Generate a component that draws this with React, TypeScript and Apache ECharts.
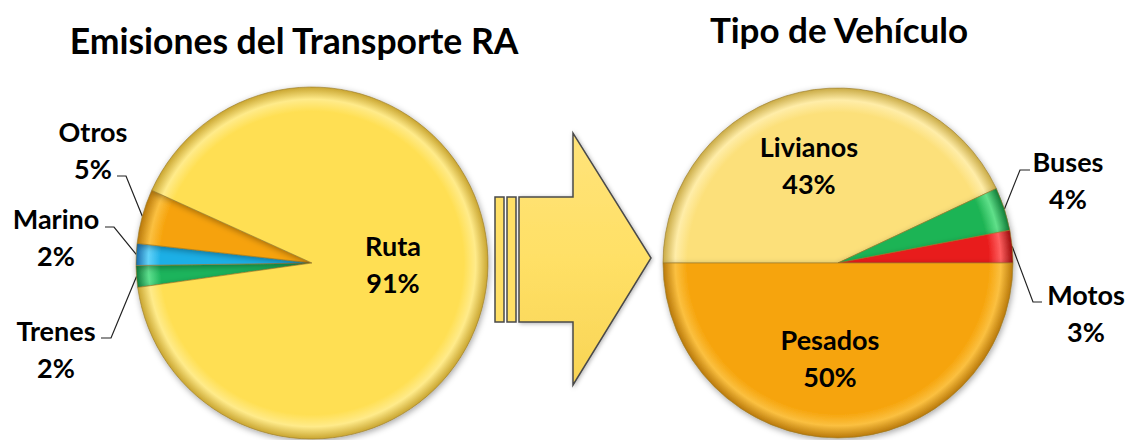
import React, { useEffect, useRef } from 'react';
import * as echarts from 'echarts';

// ---- data ----
const leftTitle = 'Emisiones del Transporte RA';
const rightTitle = 'Tipo de Vehículo';
const leftNames = ['Trenes', 'Marino', 'Otros', 'Ruta'];
const leftValues = [2, 2, 5, 91];
const rightNames = ['Livianos', 'Buses', 'Motos', 'Pesados'];
const rightValues = [43, 4, 3, 50];

// ---- styling ----
const palette: Record<string, [string, string, string]> = {
  Ruta: ['#FFDF52', '#FFEB8A', '#C9A530'],
  Otros: ['#F6A20A', '#FBC040', '#B8780A'],
  Marino: ['#1DAFE6', '#63D3FA', '#1668A8'],
  Trenes: ['#1CB45C', '#5EE08E', '#0E7A3A'],
  Livianos: ['#FCE07A', '#FFEDA8', '#C9AA45'],
  Buses: ['#1FB454', '#60E08A', '#0E7A36'],
  Motos: ['#E81A1A', '#FF6060', '#9A0A0A'],
  Pesados: ['#F6A40C', '#FBC040', '#B8780A'],
};
const outsideNames = ['Trenes', 'Marino', 'Otros', 'Buses', 'Motos'];
const labelPos: Record<string, [number, number]> = {
  Ruta: [393, 264],
  Otros: [93, 150],
  Marino: [56, 237],
  Trenes: [56, 349],
  Livianos: [809, 165],
  Pesados: [830, 358],
  Buses: [1068, 180],
  Motos: [1086, 313],
};
const linePts: Record<string, number[][]> = {
  Otros: [[126, 176], [117, 176]],
  Marino: [[114, 227], [105, 227]],
  Trenes: [[111, 338], [101, 338]],
  Buses: [[1020, 170], [1030, 170]],
  Motos: [[1033, 302], [1042, 302]],
};

const L = { cx: 312, cy: 263, r: 176 };
const R = { cx: 838, cy: 263, r: 175 };

function fill(cx: number, cy: number, r: number, name: string) {
  const [base, light, dark] = palette[name];
  return {
    type: 'radial', x: cx, y: cy, r, global: true,
    colorStops: [
      { offset: 0, color: base },
      { offset: 0.86, color: base },
      { offset: 0.93, color: light },
      { offset: 1, color: dark },
    ],
  };
}

function buildData(names: string[], values: number[], g: { cx: number; cy: number; r: number }) {
  return names.map((n, i) => {
    const outside = outsideNames.indexOf(n) >= 0;
    return {
      name: n,
      value: values[i],
      itemStyle: { color: fill(g.cx, g.cy, g.r, n) },
      label: { position: outside ? 'outside' : 'inside' },
      labelLine: { show: outside },
    };
  });
}

function layoutFor(names: string[]) {
  return (p: any) => {
    const n = names[p.dataIndex];
    const pos = labelPos[n];
    const res: any = { x: pos[0], y: pos[1], align: 'center', verticalAlign: 'middle' };
    if (linePts[n] && p.labelLinePoints) {
      res.labelLinePoints = [p.labelLinePoints[0], ...linePts[n]];
    }
    return res;
  };
}

const labelStyle = {
  formatter: '{b}\n{c}%',
  fontFamily: 'Lato',
  fontWeight: 'bold',
  fontSize: 27,
  lineHeight: 37,
  color: '#000',
  align: 'center',
};

const itemCommon = {
  borderColor: 'rgba(150,120,40,0.6)',
  borderWidth: 1,
  shadowBlur: 6,
  shadowColor: 'rgba(0,0,0,0.35)',
  shadowOffsetX: 1,
  shadowOffsetY: 2,
};

export default function App() {
  const ref = useRef<HTMLDivElement>(null);
  useEffect(() => {
    document.body.style.margin = '0';
    const chart = echarts.init(ref.current!, null, { renderer: 'svg' });
    const arrowFill = {
      type: 'linear', x: 0, y: 0, x2: 0, y2: 1,
      colorStops: [
        { offset: 0, color: '#FFE37A' },
        { offset: 0.5, color: '#FFE066' },
        { offset: 1, color: '#F8D455' },
      ],
    };
    const arrowStroke = { stroke: '#4A4A4A', lineWidth: 1.5 };
    chart.setOption({
      animation: false,
      backgroundColor: '#ffffff',
      graphic: [
        {
          type: 'text', x: 294, y: 40,
          style: { text: leftTitle, fontFamily: 'Lato', fontWeight: 'bold', fontSize: 35.5, fill: '#000', align: 'center', verticalAlign: 'middle' },
        },
        {
          type: 'text', x: 839, y: 29,
          style: { text: rightTitle, fontFamily: 'Lato', fontWeight: 'bold', fontSize: 35, fill: '#000', align: 'center', verticalAlign: 'middle' },
        },
        {
          type: 'rect', shape: { x: 495, y: 197, width: 9, height: 125 },
          style: { fill: '#FFE066', ...arrowStroke },
        },
        {
          type: 'rect', shape: { x: 507, y: 197, width: 9, height: 125 },
          style: { fill: '#FFE066', ...arrowStroke },
        },
        {
          type: 'polygon',
          shape: { points: [[519, 197], [573, 197], [573, 133], [651, 258], [573, 385], [573, 322], [519, 322]] },
          style: { fill: arrowFill, ...arrowStroke, shadowBlur: 4, shadowColor: 'rgba(0,0,0,0.3)', shadowOffsetX: 1, shadowOffsetY: 1 },
        },
      ],
      series: [
        {
          type: 'pie',
          center: [L.cx, L.cy],
          radius: L.r,
          startAngle: 188,
          clockwise: true,
          avoidLabelOverlap: false,
          label: labelStyle,
          labelLine: { length: 15, length2: 10, lineStyle: { color: '#222', width: 1.2 } },
          labelLayout: layoutFor(leftNames),
          itemStyle: itemCommon,
          emphasis: { disabled: true },
          data: buildData(leftNames, leftValues, L),
        },
        {
          type: 'pie',
          center: [R.cx, R.cy],
          radius: R.r,
          startAngle: 180,
          clockwise: true,
          avoidLabelOverlap: false,
          label: labelStyle,
          labelLine: { length: 15, length2: 10, lineStyle: { color: '#222', width: 1.2 } },
          labelLayout: layoutFor(rightNames),
          itemStyle: itemCommon,
          emphasis: { disabled: true },
          data: buildData(rightNames, rightValues, R),
        },
      ],
    });
    return () => chart.dispose();
  }, []);
  return <div ref={ref} style={{ width: 1128, height: 440 }} />;
}
